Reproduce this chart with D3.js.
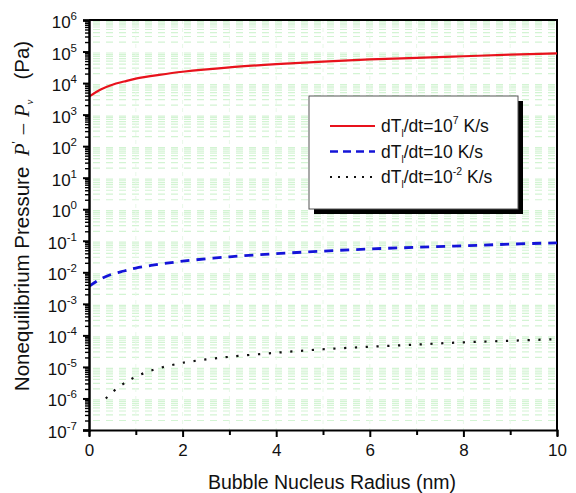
<!DOCTYPE html>
<html>
<head>
<meta charset="utf-8">
<script src="https://cdn.jsdelivr.net/npm/d3@7"></script>
<style>
  body { margin: 0; background: #fff; }
  text { font-family: Arial, "Liberation Sans", sans-serif; }
</style>
</head>
<body>
<div id="chart"></div>
<script>
// radius (nm) and pressure (Pa)
var radiusRed = [0, 0.25, 0.5, 0.75, 1, 1.5, 2, 3, 4, 5, 6, 7, 8, 9, 10];
var pressRed = [3.7e3, 6.3e3, 8.9e3, 1.12e4, 1.38e4, 1.82e4, 2.29e4, 3.16e4, 3.98e4, 4.79e4, 5.62e4, 6.31e4, 7.08e4, 7.94e4, 8.71e4];

var radiusBlue = [0, 0.25, 0.5, 0.75, 1, 1.5, 2, 3, 4, 5, 6, 7, 8, 9, 10];
var pressBlue = [3.6e-3, 6.2e-3, 8.8e-3, 1.1e-2, 1.36e-2, 1.8e-2, 2.25e-2, 3.1e-2, 3.9e-2, 4.7e-2, 5.5e-2, 6.2e-2, 6.9e-2, 7.8e-2, 8.6e-2];

var radiusBlack = [0.36, 0.5, 0.7, 0.85, 1.0, 1.2, 1.4, 1.6, 1.8, 2.0, 2.5, 3, 4, 5, 6, 7, 8, 9, 10];
var pressBlack = [1.0e-6, 1.58e-6, 2.69e-6, 3.72e-6, 4.9e-6, 6.6e-6, 8.3e-6, 1.0e-5, 1.17e-5, 1.35e-5, 1.74e-5, 2.09e-5, 2.82e-5, 3.63e-5, 4.37e-5, 5.13e-5, 6.03e-5, 6.76e-5, 7.59e-5];

var xTicks = [0, 2, 4, 6, 8, 10];
var yExponents = [6, 5, 4, 3, 2, 1, 0, -1, -2, -3, -4, -5, -6, -7];
var legendLabels = [
  { pre: "dT", sub: "l", post: "/dt=10", sup: "7", tail: " K/s" },
  { pre: "dT", sub: "l", post: "/dt=10 K/s", sup: "", tail: "" },
  { pre: "dT", sub: "l", post: "/dt=10", sup: "-2", tail: " K/s" }
];

var width = 576, height = 493;
var margin = { left: 89, right: 19, top: 20, bottom: 63 };

var svg = d3.select("#chart").append("svg")
  .attr("width", width)
  .attr("height", height);

var xScale = d3.scaleLinear()
  .domain([0, 10])
  .range([margin.left, width - margin.right]);

var yScale = d3.scaleLog()
  .domain([1e-7, 1e6])
  .range([height - margin.bottom, margin.top]);

var x0 = xScale(0), x1 = xScale(10), yTop = yScale(1e6), yBot = yScale(1e-7);

// pale green dashed grid
var minorVals = [];
yExponents.forEach(function(e) {
  if (e === 6) return;
  for (var k = 2; k <= 9; k++) minorVals.push(k * Math.pow(10, e));
});
svg.append("g").selectAll("line")
  .data(minorVals)
  .enter().append("line")
  .attr("x1", x0 + 4).attr("x2", x1)
  .attr("y1", function(d) { return yScale(d); })
  .attr("y2", function(d) { return yScale(d); })
  .attr("stroke", "#d3f4d3")
  .attr("stroke-width", 1.2)
  .attr("stroke-dasharray", "7,6");

svg.append("g").selectAll("line")
  .data(d3.range(1, 10))
  .enter().append("line")
  .attr("x1", function(d) { return xScale(d); })
  .attr("x2", function(d) { return xScale(d); })
  .attr("y1", yTop).attr("y2", yBot)
  .attr("stroke", "#e8f8e8")
  .attr("stroke-width", 1)
  .attr("stroke-dasharray", "4,4");

// frame (top and right)
svg.append("path")
  .attr("d", "M" + x0 + "," + yTop + "H" + x1 + "V" + yBot)
  .attr("fill", "none")
  .attr("stroke", "#000")
  .attr("stroke-width", 2);

// curves
var line = d3.line()
  .x(function(d) { return xScale(d[0]); })
  .y(function(d) { return yScale(d[1]); })
  .curve(d3.curveCatmullRom);

var series = [
  { xs: radiusRed, ys: pressRed, color: "#e8121c", dash: null, w: 2.2 },
  { xs: radiusBlue, ys: pressBlue, color: "#1414d8", dash: "9,7", w: 2.8 },
  { xs: radiusBlack, ys: pressBlack, color: "#111", dash: "2.2,8.6", w: 2.2 }
];

series.forEach(function(s) {
  svg.append("path")
    .datum(d3.zip(s.xs, s.ys))
    .attr("d", line)
    .attr("fill", "none")
    .attr("stroke", s.color)
    .attr("stroke-width", s.w)
    .attr("stroke-dasharray", s.dash);
});

// x axis
var xAxis = d3.axisBottom(xScale)
  .tickValues(d3.range(0, 11, 1))
  .tickSize(6)
  .tickFormat(function(d) { return xTicks.indexOf(d) >= 0 ? d : ""; });

var gx = svg.append("g")
  .attr("transform", "translate(0," + yBot + ")")
  .call(xAxis);
gx.select(".domain").attr("stroke-width", 2);
gx.selectAll(".tick line")
  .attr("stroke-width", 2)
  .attr("y2", function(d) { return d % 2 === 0 ? 7 : 5; });
gx.selectAll(".tick text")
  .attr("font-size", 17)
  .attr("y", 14)
  .attr("fill", "#111");

// y axis
var majorVals = yExponents.map(function(e) { return Math.pow(10, e); });
var yAxis = d3.axisLeft(yScale)
  .tickValues(majorVals.concat(minorVals))
  .tickSize(6)
  .tickFormat("");

var gy = svg.append("g")
  .attr("transform", "translate(" + x0 + ",0)")
  .call(yAxis);
gy.select(".domain").attr("stroke-width", 2.5);
gy.selectAll(".tick line")
  .attr("stroke-width", function(d) { return majorVals.indexOf(d) >= 0 ? 2 : 1.4; })
  .attr("x2", function(d) { return majorVals.indexOf(d) >= 0 ? -6 : -4; });

var yLab = svg.append("g").selectAll("text")
  .data(yExponents)
  .enter().append("text")
  .attr("x", 77)
  .attr("y", function(d) { return yScale(Math.pow(10, d)) + 8; })
  .attr("text-anchor", "end")
  .attr("font-size", 17)
  .attr("fill", "#111");
yLab.append("tspan").text("10");
yLab.append("tspan")
  .attr("dy", -8)
  .attr("font-size", 11.5)
  .text(function(d) { return d; });

// axis titles
svg.append("text")
  .attr("x", 332)
  .attr("y", 489)
  .attr("text-anchor", "middle")
  .attr("font-size", 19.5)
  .attr("fill", "#111")
  .text("Bubble Nucleus Radius (nm)");

var yt = svg.append("text")
  .attr("transform", "translate(29,216) rotate(-90)")
  .attr("text-anchor", "middle")
  .attr("font-size", 20.5)
  .attr("fill", "#111");
yt.append("tspan").text("Nonequilibrium Pressure ");
yt.append("tspan").attr("dx", 5)
  .attr("font-family", "'Liberation Serif', 'DejaVu Serif', serif")
  .attr("font-style", "italic").text("P");
yt.append("tspan").attr("dy", -9).attr("font-size", 12)
  .attr("font-family", "'Liberation Serif', serif").text("'");
yt.append("tspan").attr("dy", 9).attr("dx", 7)
  .attr("font-family", "'Liberation Serif', serif").text("\u2013");
yt.append("tspan").attr("dx", 7)
  .attr("font-family", "'Liberation Serif', 'DejaVu Serif', serif")
  .attr("font-style", "italic").text("P");
yt.append("tspan").attr("dy", 4).attr("font-size", 11)
  .attr("font-family", "'Liberation Serif', serif")
  .attr("font-style", "italic").text("v");
yt.append("tspan").attr("dy", -4).attr("dx", 20).text("(Pa)");

// legend
var lgX = 309, lgY = 96, lgW = 209, lgH = 113;
svg.append("rect")
  .attr("x", lgX + 5).attr("y", lgY + 5)
  .attr("width", lgW).attr("height", lgH)
  .attr("fill", "#000");
svg.append("rect")
  .attr("x", lgX).attr("y", lgY)
  .attr("width", lgW).attr("height", lgH)
  .attr("fill", "#fff")
  .attr("stroke", "#555")
  .attr("stroke-width", 1);

var lg = svg.append("g").selectAll("g")
  .data(legendLabels)
  .enter().append("g")
  .attr("transform", function(d, i) { return "translate(" + lgX + "," + (lgY + 30 + i * 25.5) + ")"; });

lg.append("line")
  .attr("x1", 21).attr("x2", 66)
  .attr("stroke", function(d, i) { return series[i].color; })
  .attr("stroke-width", function(d, i) { return i === 1 ? 2.6 : 2.2; })
  .attr("stroke-dasharray", function(d, i) { return i === 0 ? null : (i === 1 ? "8,5" : "2,6"); });

var lt = lg.append("text")
  .attr("x", 72)
  .attr("y", 6)
  .attr("font-size", 17.5)
  .attr("fill", "#111");
lt.append("tspan").text(function(d) { return d.pre; });
lt.append("tspan").attr("dy", 5).attr("font-size", 10).text(function(d) { return d.sub; });
lt.append("tspan").attr("dy", -5).text(function(d) { return d.post; });
lt.append("tspan").attr("dy", -8).attr("font-size", 10.5).text(function(d) { return d.sup; });
lt.append("tspan").attr("dy", 8).text(function(d) { return d.tail; });
</script>
</body>
</html>
